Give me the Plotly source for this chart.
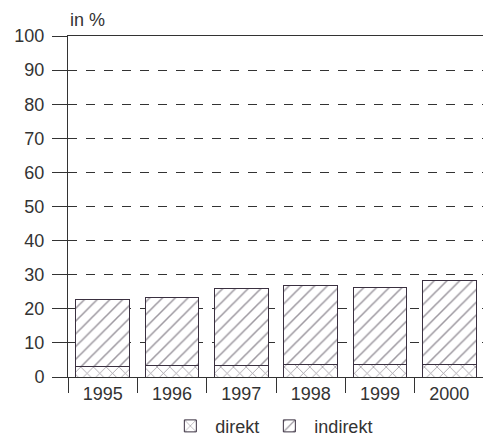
import plotly.graph_objects as go

years = ["1995", "1996", "1997", "1998", "1999", "2000"]
direkt = [3.2, 3.3, 3.5, 3.8, 3.7, 3.8]
total = [22.8, 23.3, 26.1, 26.9, 26.3, 28.2]
indirekt = [t - d for t, d in zip(total, direkt)]
y_ticks = [0, 10, 20, 30, 40, 50, 60, 70, 80, 90, 100]

ink = "#333333"
hatch = "#3a3040"

fig = go.Figure()
fig.add_bar(
    x=years, y=direkt, name="direkt", width=0.77,
    marker=dict(color="white", line=dict(color=hatch, width=1),
                pattern=dict(shape="x", fgcolor=hatch, bgcolor="white", size=9, solidity=0.17)),
)
fig.add_bar(
    x=years, y=indirekt, name="indirekt", width=0.77,
    marker=dict(color="white", line=dict(color=hatch, width=1),
                pattern=dict(shape="/", fgcolor=hatch, bgcolor="white", size=9, solidity=0.17)),
)

# page body has an 8px margin, so the figure is offset by (8, 8)
fig.update_layout(
    width=477, height=440,
    barmode="stack",
    plot_bgcolor="white", paper_bgcolor="white",
    margin=dict(l=60, r=1, t=28, b=71, autoexpand=False),
    font=dict(family="Liberation Sans, Arial, sans-serif", size=18, color=ink),
    showlegend=True,
    legend=dict(orientation="h", traceorder="normal", x=0.49, xanchor="center",
                y=-0.09, yanchor="top", font=dict(size=18, color=ink), itemwidth=40),
    annotations=[dict(text="in %", xref="paper", yref="paper", x=0.0, y=1.012,
                      xanchor="left", yanchor="bottom", showarrow=False,
                      font=dict(size=18, color=ink))],
)
fig.update_xaxes(
    type="category", automargin=False, showline=True, linecolor=ink, linewidth=1, mirror=True,
    ticks="outside", tickson="boundaries", ticklen=15, tickcolor=ink,
    showgrid=False, tickfont=dict(size=18, color=ink),
)
fig.update_yaxes(
    range=[0, 100], tickvals=y_ticks, automargin=False, showline=True, linecolor=ink,
    linewidth=1, mirror=True, ticks="outside", ticklen=15, tickcolor=ink,
    ticklabelstandoff=4,
    showgrid=True, gridcolor=ink, gridwidth=1, griddash="dash", zeroline=False,
    tickfont=dict(size=18, color=ink),
)

fig.write_html("out.html")
